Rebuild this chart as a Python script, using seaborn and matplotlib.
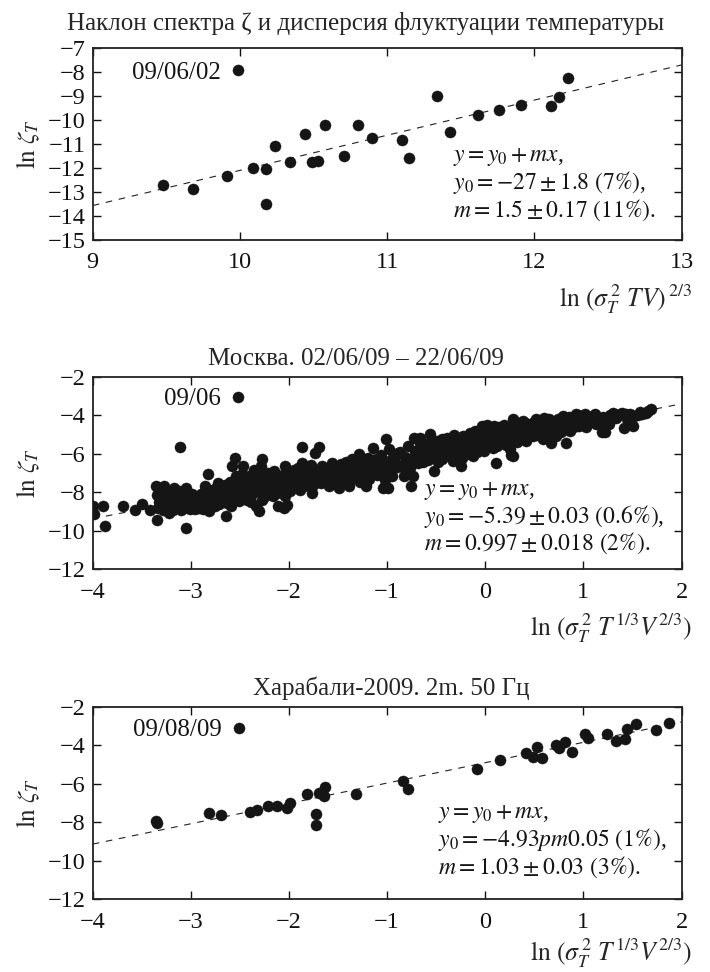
import matplotlib
matplotlib.use("Agg")
import matplotlib.pyplot as plt
import seaborn as sns
import pandas as pd
import numpy as np

# ---------------- data ----------------
top_x = [9.48, 9.68, 9.91, 9.99, 10.09, 10.18, 10.18, 10.24, 10.34, 10.44, 10.49, 10.53,
         10.58, 10.71, 10.80, 10.90, 11.10, 11.15, 11.34, 11.43, 11.62, 11.76, 11.91,
         12.11, 12.17, 12.23]
top_y = [-12.70, -12.87, -12.33, -7.90, -11.98, -12.05, -13.51, -11.07, -11.77, -10.57,
         -11.74, -11.71, -10.19, -11.49, -10.19, -10.73, -10.85, -11.60, -8.99, -10.50,
         -9.80, -9.60, -9.36, -9.43, -9.06, -8.24]
top_fit = (-26.75, 1.465)

moscow_points = [
    (-4.00, -8.74), (-3.99, -9.12), (-3.90, -8.74), (-3.88, -9.78), (-3.69, -8.74),
    (-3.57, -8.91), (-3.50, -8.60), (-3.42, -8.91), (-3.36, -7.65), (-3.35, -8.13),
    (-3.35, -9.43), (-3.33, -8.80), (-3.32, -8.50), (-3.30, -7.90), (-3.28, -8.91),
    (-3.27, -7.70), (-3.26, -8.30), (-3.23, -8.56), (-3.22, -9.09), (-3.20, -8.10),
    (-3.18, -8.95), (-3.17, -7.78), (-3.15, -8.70), (-3.13, -8.39), (-3.11, -5.66),
    (-3.10, -8.95), (-3.08, -8.20), (-3.05, -7.78), (-3.05, -9.87), (-3.03, -8.56),
    (-3.01, -8.85), (-3.00, -8.30), (-2.97, -8.60), (-2.95, -8.39), (-2.92, -8.82),
    (-2.90, -8.10), (-2.88, -8.90), (-2.86, -7.69), (-2.85, -8.39), (-2.83, -7.03),
    (-2.82, -9.00), (-2.80, -8.21), (-2.78, -7.90), (-2.75, -8.74), (-2.73, -8.45),
    (-2.72, -7.52), (-2.70, -8.13), (-2.68, -8.00), (-2.66, -7.86), (-2.64, -9.26),
    (-2.63, -8.56), (-2.61, -8.30), (-2.59, -8.74), (-2.58, -6.64), (-2.57, -7.69),
    (-2.55, -6.20), (-2.55, -8.00), (-2.52, -3.05), (-2.51, -8.45), (-2.50, -7.34),
    (-2.50, -8.21), (-2.47, -6.64), (-2.46, -7.60), (-2.44, -7.95), (-2.43, -8.40),
    (-2.41, -7.17), (-2.40, -7.80), (-2.38, -8.10), (-2.36, -6.82), (-2.35, -7.52),
    (-2.34, -8.74), (-2.33, -7.95), (-2.31, -9.00), (-2.30, -7.30), (-2.29, -6.64),
    (-2.28, -6.29), (-2.28, -8.39), (-2.26, -7.70), (-2.24, -8.04), (-2.22, -7.40),
    (-2.21, -6.99), (-2.19, -7.80), (-2.18, -7.69), (-2.16, -8.20), (-2.14, -7.20),
    (-2.11, -8.74), (-2.10, -7.50), (-2.08, -7.90), (-2.07, -7.34), (-2.06, -7.08),
    (-2.05, -8.82), (-2.04, -6.64), (-2.04, -8.21), (-2.02, -8.65), (-2.02, -7.60),
    (-2.00, -7.17), (-1.98, -7.40), (-1.95, -6.82), (-1.93, -7.70), (-1.92, -7.34),
    (-1.90, -7.00), (-1.87, -5.63), (-1.87, -6.47), (-1.85, -7.69), (-1.83, -7.08),
    (-1.81, -7.45), (-1.79, -6.80), (-1.77, -8.04), (-1.77, -7.34), (-1.75, -7.00),
    (-1.73, -5.94), (-1.73, -6.82), (-1.70, -7.17), (-1.69, -5.63), (-1.67, -7.50),
    (-1.65, -6.90), (-1.62, -7.20), (-1.59, -6.99), (-1.59, -7.69), (-1.56, -6.47),
    (-1.54, -7.30), (-1.52, -6.70), (-1.49, -7.78), (-1.49, -6.82), (-1.49, -7.34),
    (-1.46, -7.10), (-1.43, -6.73), (-1.42, -6.40), (-1.39, -7.69), (-1.39, -7.08),
    (-1.36, -6.29), (-1.34, -6.90), (-1.31, -7.20), (-1.29, -6.03), (-1.29, -6.82),
    (-1.27, -6.50), (-1.26, -7.00), (-1.22, -7.69), (-1.20, -6.60), (-1.19, -6.20),
    (-1.19, -6.99), (-1.16, -6.80), (-1.14, -5.68), (-1.12, -6.47), (-1.10, -7.10),
    (-1.07, -6.60), (-1.05, -6.29), (-1.05, -7.08), (-1.04, -7.78), (-1.01, -5.25),
    (-1.00, -6.90), (-0.99, -7.78), (-0.98, -5.77), (-0.97, -6.50), (-0.95, -6.29),
    (-0.95, -7.17), (-0.93, -6.10), (-0.90, -6.70), (-0.87, -5.90), (-0.83, -7.17),
    (-0.80, -6.40), (-0.78, -6.29), (-0.76, -7.69), (-0.74, -7.17), (-0.73, -5.16),
    (-0.71, -6.03), (-0.69, -6.50), (-0.67, -5.16), (-0.64, -5.77), (-0.62, -6.20),
    (-0.60, -5.50), (-0.56, -4.98), (-0.55, -6.00), (-0.52, -6.90), (-0.50, -6.12),
    (-0.49, -5.33), (-0.47, -5.70), (-0.44, -5.25), (-0.44, -5.86), (-0.44, -6.29),
    (-0.40, -5.50), (-0.37, -5.60), (-0.36, -6.10), (-0.33, -6.38), (-0.31, -5.30),
    (-0.28, -5.90), (-0.27, -5.77), (-0.25, -6.64), (-0.23, -5.07), (-0.21, -5.50),
    (-0.19, -6.00), (-0.16, -4.90), (-0.15, -5.70), (-0.13, -5.60), (-0.11, -5.20),
    (-0.10, -4.81), (-0.08, -5.90), (-0.06, -5.42), (-0.05, -5.00), (-0.03, -4.55),
    (-0.02, -5.30), (0.00, -5.60), (0.01, -5.07), (0.02, -4.52), (0.03, -4.80),
    (0.05, -5.30), (0.08, -5.68), (0.09, -4.55), (0.11, -6.47), (0.11, -5.24),
    (0.13, -4.90), (0.15, -5.40), (0.18, -5.07), (0.20, -4.70), (0.22, -5.20),
    (0.25, -5.42), (0.25, -5.77), (0.26, -6.05), (0.28, -4.20), (0.28, -6.12),
    (0.30, -4.85), (0.33, -5.10), (0.35, -4.90), (0.38, -4.29), (0.38, -4.60),
    (0.40, -5.20), (0.42, -5.33), (0.42, -4.55), (0.45, -4.75), (0.48, -4.81),
    (0.50, -4.34), (0.52, -4.20), (0.53, -5.00), (0.56, -4.60), (0.59, -5.24),
    (0.59, -4.46), (0.62, -4.72), (0.65, -4.20), (0.67, -5.42), (0.68, -4.90),
    (0.72, -5.07), (0.72, -4.40), (0.76, -4.55), (0.79, -4.03), (0.80, -4.70),
    (0.82, -5.42), (0.84, -4.30), (0.86, -4.81), (0.89, -4.38), (0.92, -3.94),
    (0.93, -4.55), (0.96, -4.55), (0.98, -4.10), (1.00, -4.29), (1.03, -4.60),
    (1.06, -4.15), (1.10, -4.03), (1.13, -4.45), (1.17, -4.38), (1.19, -4.88),
    (1.22, -4.86), (1.24, -4.29), (1.27, -4.00), (1.30, -3.85), (1.33, -4.15),
    (1.37, -3.94), (1.41, -4.64), (1.44, -4.20), (1.47, -3.95), (1.51, -4.55),
    (1.52, -4.03), (1.56, -4.00), (1.60, -3.90), (1.64, -3.85), (1.69, -3.68),
    # denser fill of the band
    (-3.31, -8.20), (-3.29, -8.65), (-3.24, -7.95), (-3.21, -8.40), (-3.19, -8.75),
    (-3.16, -8.05), (-3.14, -8.55), (-3.12, -7.95), (-3.09, -8.50), (-3.07, -8.80),
    (-3.04, -8.05), (-3.02, -8.40), (-2.99, -8.10), (-2.96, -8.90), (-2.93, -8.25),
    (-2.91, -8.55), (-2.87, -8.00), (-2.84, -8.70), (-2.81, -8.45), (-2.79, -8.00),
    (-2.76, -8.30), (-2.74, -7.80), (-2.71, -8.60), (-2.69, -7.75), (-2.67, -8.35),
    (-2.65, -7.60), (-2.62, -8.05), (-2.60, -7.45), (-2.56, -8.30), (-2.54, -7.15),
    (-2.53, -7.85), (-2.49, -7.95), (-2.48, -7.05), (-2.45, -8.20), (-2.42, -7.50),
    (-2.39, -8.50), (-2.37, -7.25), (-2.32, -7.70), (-2.27, -7.10), (-2.25, -8.25),
    (-2.23, -7.60), (-2.20, -8.00), (-2.17, -7.35), (-2.15, -6.90), (-2.13, -7.70),
    (-2.12, -8.05), (-2.09, -7.15), (-2.03, -7.85), (-2.01, -6.90),
    (-1.99, -7.95), (-1.96, -7.15), (-1.94, -7.55), (-1.91, -6.75), (-1.89, -7.90),
    (-1.86, -7.25), (-1.84, -6.85), (-1.82, -7.60), (-1.80, -7.20), (-1.78, -6.60),
    (-1.76, -7.60), (-1.74, -7.25), (-1.71, -6.95), (-1.68, -7.35), (-1.66, -6.65),
    (-1.63, -7.00), (-1.61, -7.45), (-1.58, -6.75), (-1.55, -7.15), (-1.53, -6.90),
    (-1.51, -7.55), (-1.47, -6.55), (-1.45, -7.45), (-1.41, -6.95), (-1.37, -7.35),
    (-1.35, -6.60), (-1.33, -7.00), (-1.30, -6.40), (-1.28, -7.45), (-1.24, -6.75),
    (-1.21, -6.40), (-1.18, -7.30), (-1.15, -6.45), (-1.13, -6.95), (-1.11, -6.25),
    (-1.08, -6.85), (-1.06, -6.05), (-1.03, -6.70), (-1.02, -7.35),
    (-0.96, -6.85), (-0.92, -6.45), (-0.89, -5.95), (-0.85, -6.65), (-0.82, -6.15),
    (-0.79, -5.60), (-0.77, -6.75), (-0.72, -5.85), (-0.70, -6.30), (-0.66, -5.45),
    (-0.63, -6.45), (-0.61, -5.85), (-0.58, -6.30), (-0.54, -5.35), (-0.51, -5.70),
    (-0.48, -6.40), (-0.45, -5.55), (-0.42, -6.00), (-0.39, -5.15), (-0.35, -5.75),
    (-0.32, -5.00), (-0.30, -6.05), (-0.26, -5.35), (-0.24, -6.20), (-0.20, -5.20),
    (-0.18, -5.85), (-0.14, -5.35), (-0.12, -6.10), (-0.09, -5.10), (-0.07, -5.65),
    (-0.04, -4.75), (-0.01, -5.85),
    (0.04, -5.50), (0.06, -4.70), (0.10, -5.00), (0.12, -5.60), (0.14, -4.60),
    (0.17, -5.30), (0.19, -4.50), (0.21, -5.55), (0.23, -4.85), (0.27, -5.10),
    (0.29, -4.55), (0.32, -5.40), (0.34, -4.40), (0.36, -5.00), (0.39, -4.80),
    (0.41, -4.40), (0.44, -5.10), (0.46, -4.45), (0.49, -5.05), (0.51, -4.65),
    (0.55, -4.30), (0.57, -4.90), (0.60, -4.15), (0.63, -5.00), (0.66, -4.50),
    (0.70, -4.75), (0.74, -4.20), (0.77, -4.85), (0.81, -4.45), (0.85, -4.10),
    (0.88, -4.65), (0.91, -4.25), (0.95, -4.00), (0.99, -4.40), (1.02, -3.95),
    (1.05, -4.40), (1.08, -4.25), (1.12, -3.95), (1.15, -4.20), (1.20, -4.10),
    (1.26, -4.45), (1.29, -4.15), (1.35, -4.00), (1.39, -3.85), (1.43, -3.90),
    (1.49, -4.10), (1.58, -3.80), (1.66, -3.75),
]
moscow_x = [p[0] for p in moscow_points]
moscow_y = [p[1] for p in moscow_points]
moscow_fit = (-5.39, 0.997)

khar_x = [-2.51, -3.36, -3.35, -2.82, -2.69, -2.40, -2.33, -2.21, -2.12, -2.02, -1.99,
          -1.82, -1.72, -1.72, -1.69, -1.63, -1.64, -1.32, -0.84, -0.79, -0.08, 0.15,
          0.42, 0.49, 0.53, 0.58, 0.72, 0.75, 0.81, 0.88, 1.02, 1.05, 1.24, 1.33, 1.42,
          1.44, 1.54, 1.74, 1.87]
khar_y = [-3.10, -7.92, -8.04, -7.54, -7.63, -7.45, -7.37, -7.14, -7.14, -7.28, -6.98,
          -6.53, -7.57, -8.17, -6.50, -6.18, -6.63, -6.55, -5.83, -6.27, -5.24, -4.77,
          -4.40, -4.61, -4.09, -4.63, -4.00, -4.14, -3.83, -4.32, -3.39, -3.59, -3.41,
          -3.79, -3.67, -3.13, -2.89, -3.18, -2.84]
khar_fit = (-4.90, 1.06)

titles = ["Наклон спектра ζ и дисперсия флуктуации температуры",
          "Москва. 02/06/09 – 22/06/09",
          "Харабали-2009. 2m. 50 Гц"]
title_x = [0.464, 0.447, 0.507]
title_pad = [13, 9, 9]
date_labels = ["09/06/02", "09/06", "09/08/09"]
date_pos = [(9.87, -8.05), (-2.69, -3.17), (-2.69, -3.18)]
fit_lines = [
    [r"$y = y_0 + mx$,", r"$y_0 = -27 \pm 1.8\ (7\%)$,", r"$m = 1.5 \pm 0.17\ (11\%)$."],
    [r"$y = y_0 + mx$,", r"$y_0 = -5.39 \pm 0.03\ (0.6\%)$,", r"$m = 0.997 \pm 0.018\ (2\%)$."],
    [r"$y = y_0 + mx$,", r"$y_0 = -4.93pm0.05\ (1\%)$,", r"$m = 1.03 \pm 0.03\ (3\%)$."],
]
fit_text_x = [11.45, -0.62, -0.48]
fit_text_last_baseline = [-14.02, -11.0, -10.67]
xlabels = [r"$\ln\,(\sigma_T^{\,2}\ TV)^{\,2/3}$",
           r"$\ln\,(\sigma_T^{\,2}\ T^{1/3}V^{2/3})$",
           r"$\ln\,(\sigma_T^{\,2}\ T^{1/3}V^{2/3})$"]
xlabel_y = [-0.31, -0.31, -0.285]
ylabel = r"$\ln\,\zeta_T$"
xlims = [(9, 13), (-4, 2), (-4, 2)]
ylims = [(-15, -7), (-12, -2), (-12, -2)]
xticks = [[9, 10, 11, 12, 13], [-4, -3, -2, -1, 0, 1, 2], [-4, -3, -2, -1, 0, 1, 2]]
yticks = [list(range(-15, -6)), list(range(-12, -1, 2)), list(range(-12, -1, 2))]

# ---------------- style ----------------
sns.set_style("ticks")
plt.rcParams["font.family"] = ["Liberation Serif", "DejaVu Serif"]
plt.rcParams["mathtext.fontset"] = "stix"
plt.rcParams["axes.unicode_minus"] = True

fig = plt.figure(figsize=(7.1, 9.72), dpi=100)
left, width, height = 0.1306, 0.8293, 0.1975
bottoms = [0.7531, 0.4146, 0.0751]

datasets = [(top_x, top_y, top_fit), (moscow_x, moscow_y, moscow_fit), (khar_x, khar_y, khar_fit)]
ink = "#151515"

for i, (xs, ys, fit) in enumerate(datasets):
    ax = fig.add_axes([left, bottoms[i], width, height])
    df = pd.DataFrame({"x": xs, "y": ys})
    sns.scatterplot(data=df, x="x", y="y", ax=ax, s=64, color=ink,
                    edgecolor=ink, linewidth=0.3, zorder=3, legend=False)
    fx = np.array(xlims[i], dtype=float)
    fy = fit[0] + fit[1] * fx
    ln, = ax.plot(fx, fy, color="#222222", lw=0.8, zorder=2)
    ln.set_dashes([6, 6])
    ax.set_xlim(*xlims[i])
    ax.set_ylim(*ylims[i])
    ax.set_xticks(xticks[i])
    ax.set_yticks(yticks[i])
    ax.tick_params(direction="in", top=True, right=True, length=6, width=1.0,
                   labelsize=17.5, colors="#111111")
    ax.tick_params(axis="x", pad=9)
    ax.tick_params(axis="y", pad=5)
    for sp in ax.spines.values():
        sp.set_linewidth(1.3)
        sp.set_color("#222222")
        sp.set_visible(True)
    ax.set_title(titles[i], fontsize=18, x=title_x[i], pad=title_pad[i])
    ax.set_xlabel(xlabels[i], fontsize=18.5, ha="right", va="center")
    ax.xaxis.set_label_coords(1.018, xlabel_y[i])
    ax.set_ylabel(ylabel, fontsize=18, va="center")
    ax.yaxis.set_label_coords(-0.11, 0.5)
    ax.text(date_pos[i][0], date_pos[i][1], date_labels[i], fontsize=18,
            ha="right", va="center", color=ink)
    ax.text(fit_text_x[i], fit_text_last_baseline[i], "\n".join(fit_lines[i]),
            fontsize=17, ha="left", va="baseline", linespacing=1.05,
            multialignment="left", color=ink)

fig.savefig("out.png", dpi=100)
